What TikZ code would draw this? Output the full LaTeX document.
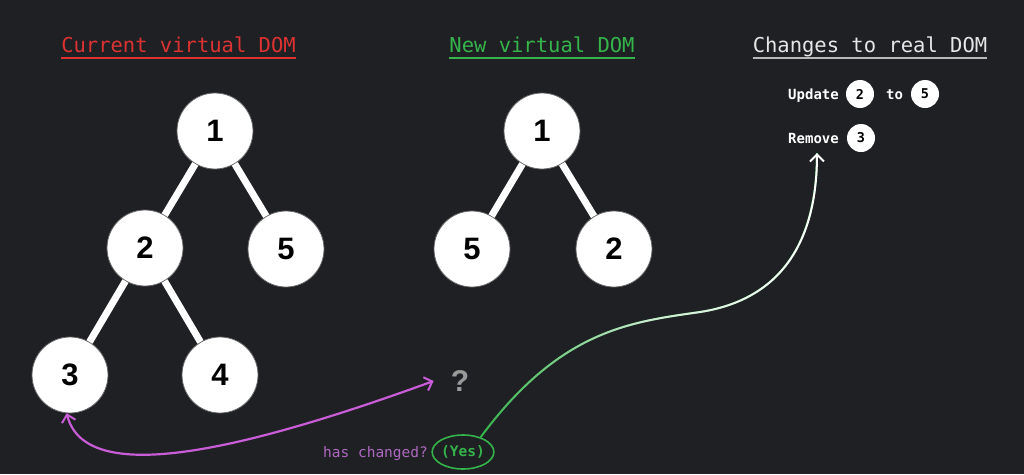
\documentclass[tikz,border=0pt]{standalone}
\usepackage{fontspec}
\setmainfont{Liberation Sans}
\newfontfamily\monof{DejaVu Sans Mono}
\usetikzlibrary{arrows.meta,fadings,shapes.geometric}
\definecolor{bg}{HTML}{1F2023}
\definecolor{tred}{HTML}{DC3232}
\definecolor{tgreen}{HTML}{34B44A}
\definecolor{twhite}{HTML}{E6E6E6}
\definecolor{mag}{HTML}{C95CD8}
\definecolor{pur}{HTML}{AE68C0}
\definecolor{qgray}{HTML}{9A9A9A}
\tikzfading[name=gwfade, left color=transparent!100, right color=transparent!0, middle color=transparent!25]
\tikzset{
  treenode/.style={circle, fill=white, draw=black!60, line width=0.8pt, minimum size=76pt, inner sep=0pt, font=\fontsize{31}{31}\selectfont\bfseries, text=black},
  smallnode/.style={circle, fill=white, minimum size=28pt, inner sep=0pt, font=\monof\fontsize{13.5}{13.5}\selectfont\bfseries, text=black},
  edge/.style={white, line width=7pt},
  title/.style={anchor=base, inner sep=0pt, font=\monof\fontsize{20.5}{20.5}\selectfont},
  small/.style={anchor=base, inner sep=0pt, font=\monof\fontsize{14}{14}\selectfont\bfseries, text=white},
  barb/.tip={Straight Barb[length=7pt,width=14pt,line width=2pt]}
}
\begin{document}
\begin{tikzpicture}[x=1pt,y=-1pt]
\fill[bg] (0,0) rectangle (1024,474);
\useasboundingbox (0,0) rectangle (1024,474);
% titles
\node[title, text=tred] (t1) at (178.5,52) {Current virtual DOM};
\node[title, text=tgreen] (t2) at (542,52) {New virtual DOM};
\node[title, text=twhite] (t3) at (870,52) {Changes to real DOM};
\draw[tred, line width=2pt] ([yshift=-5.5pt]t1.base west) -- ([yshift=-5.5pt]t1.base east);
\draw[tgreen, line width=2pt] ([yshift=-5.5pt]t2.base west) -- ([yshift=-5.5pt]t2.base east);
\draw[twhite!80!black, line width=2pt] ([yshift=-5.5pt]t3.base west) -- ([yshift=-5.5pt]t3.base east);
% current tree
\node[treenode] (a1) at (215,131) {1};
\node[treenode] (a2) at (145,248) {2};
\node[treenode] (a5) at (286,249) {5};
\node[treenode] (a3) at (70,375) {3};
\node[treenode] (a4) at (220,375) {4};
\draw[edge] (a1) -- (a2);
\draw[edge] (a1) -- (a5);
\draw[edge] (a2) -- (a3);
\draw[edge] (a2) -- (a4);
% new tree
\node[treenode] (b1) at (542,131) {1};
\node[treenode] (b5) at (472,249) {5};
\node[treenode] (b2) at (614,249) {2};
\draw[edge] (b1) -- (b5);
\draw[edge] (b1) -- (b2);
% changes
\node[small] (upd) at (813.5,99) {Update};
\node[smallnode] (c2) at (860,94) {2};
\node[small] (to) at (894.5,99) {to};
\node[smallnode] (c5) at (925,94) {5};
\node[small] (rem) at (813.5,143) {Remove};
\node[smallnode] (c3) at (861,138) {3};
\coordinate (remtip) at (817,153);
% question
\node[font=\fontsize{30}{30}\selectfont\bfseries, text=qgray, inner sep=0pt] (q) at (460,381) {?};
\node[anchor=base, inner sep=0pt, font=\monof\fontsize{14.5}{14.5}\selectfont, text=pur] (hc) at (375.5,457) {has changed?};
\node[ellipse, draw=tgreen, line width=1.6pt, minimum width=60pt, minimum height=34pt, inner sep=0pt, font=\monof\fontsize{14.5}{14.5}\selectfont\bfseries, text=tgreen] (yes) at (463,452) {(Yes)};
% magenta arrow
\draw[mag, line width=2.2pt, {barb}-{barb}] (a3.265) .. controls (85,485) and (230,455) .. ([xshift=-17pt]q.west);
% green to white arrow
\draw[tgreen, line width=2pt] (yes.40) .. controls (560,330) and (630,322) .. (700,312) .. controls (790,298) and (817,230) .. (remtip);
\draw[white, line width=2pt, path fading=gwfade, -{barb}] (yes.40) .. controls (560,330) and (630,322) .. (700,312) .. controls (790,298) and (817,230) .. (remtip);
\end{tikzpicture}
\end{document}
